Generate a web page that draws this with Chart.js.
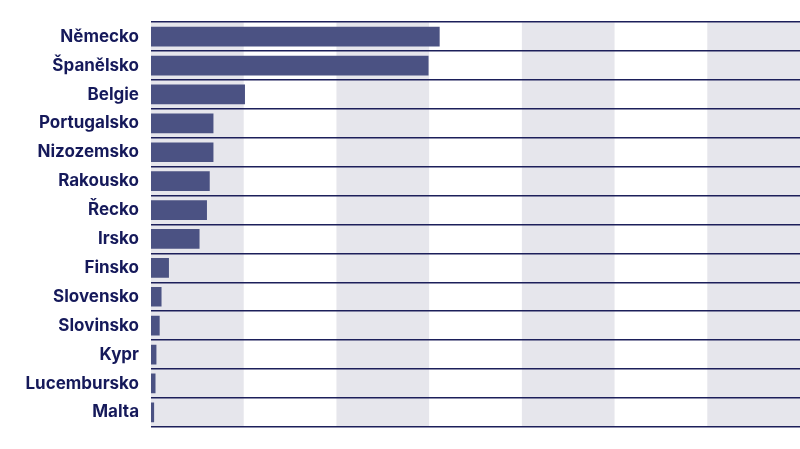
<!DOCTYPE html>
<html>
<head>
<meta charset="utf-8">
<script src="https://cdn.jsdelivr.net/npm/chart.js@4"></script>
<style>
  html, body { margin: 0; padding: 0; background: #fff; }
  #wrap { width: 800px; height: 449px; }
</style>
</head>
<body>
<div id="wrap"><canvas id="myChart"></canvas></div>
<script>
// zemé a hodnoty (odhad z obrázku)
const countries = ['Německo', 'Španělsko', 'Belgie', 'Portugalsko', 'Nizozemsko', 'Rakousko', 'Řecko', 'Irsko', 'Finsko', 'Slovensko', 'Slovinsko', 'Kypr', 'Lucembursko', 'Malta'];
const values = [31.1, 29.9, 10.1, 6.7, 6.7, 6.3, 6.0, 5.2, 1.9, 1.1, 0.9, 0.55, 0.45, 0.3];
const xMax = 70;
const xStep = 10;

// střídavé pruhy na pozadí
const bands = {
  id: 'bands',
  beforeDraw(chart) {
    const { ctx, chartArea, scales } = chart;
    const x = scales.x;
    ctx.save();
    for (let v = 0, i = 0; v < xMax; v += xStep, i++) {
      if (i % 2 === 0) {
        const a = x.getPixelForValue(v);
        const b = x.getPixelForValue(v + xStep);
        ctx.fillStyle = '#e6e6ec';
        ctx.fillRect(a, chartArea.top, b - a, chartArea.bottom - chartArea.top);
      }
    }
    ctx.restore();
  }
};

const ctx = document.getElementById('myChart').getContext('2d');
new Chart(ctx, {
  type: 'bar',
  data: {
    labels: countries,
    datasets: [{
      data: values,
      backgroundColor: '#4b5283',
      barThickness: 19
    }]
  },
  options: {
    indexAxis: 'y',
    responsive: true,
    maintainAspectRatio: false,
    animation: false,
    layout: { padding: { top: 5, bottom: 6, right: 0 } },
    plugins: { legend: { display: false }, tooltip: { enabled: false } },
    scales: {
      x: {
        display: false,
        min: 0, max: xMax,
        ticks: { stepSize: xStep }
      },
      y: {
        afterFit(scale) { scale.width = 151; },
        grid: { offset: true, color: '#1c1f5a', lineWidth: 1.5, drawTicks: false },
        border: { display: false },
        ticks: {
          color: '#15195a',
          padding: 12,
          font: { family: 'Inter', size: 17, weight: 'bold' }
        }
      }
    }
  },
  plugins: [bands]
});
</script>
</body>
</html>
